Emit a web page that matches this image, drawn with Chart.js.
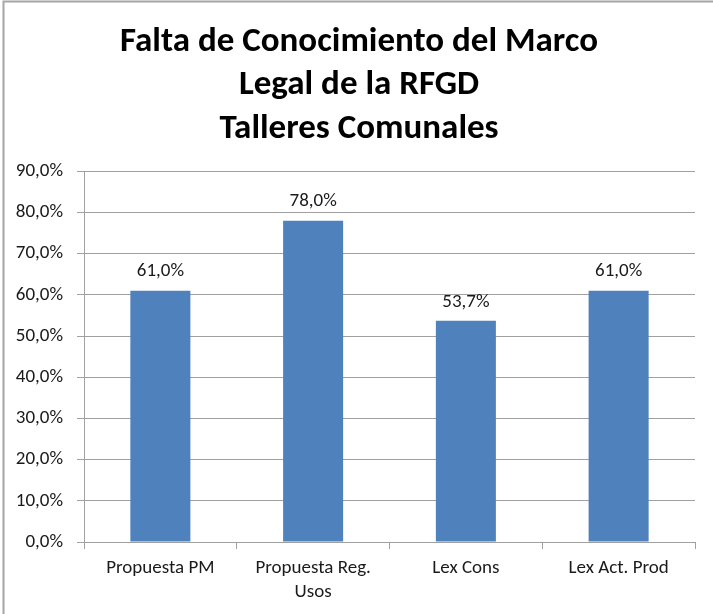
<!DOCTYPE html>
<html>
<head>
<meta charset="utf-8">
<script src="https://cdn.jsdelivr.net/npm/chart.js@4/dist/chart.umd.min.js"></script>
<style>
html,body{margin:0;padding:0;background:#fff;}
canvas{display:block;}
</style>
</head>
<body>
<canvas id="c" width="713" height="614"></canvas>
<script>
const titleLines = ['Falta de Conocimiento del Marco', 'Legal de la RFGD', 'Talleres Comunales'];
const categories = ['Propuesta PM', ['Propuesta Reg.', 'Usos'], 'Lex Cons', 'Lex Act. Prod'];
const values = [61.0, 78.0, 53.7, 61.0];
const yMin = 0, yMax = 90, yStep = 10;

const FONT = 'Carlito, Lato, "Open Sans", sans-serif';
const fmt = v => Number(v).toFixed(1).replace('.', ',') + '%';

const frame = {
  id: 'frame',
  beforeDraw(chart) {
    const c = chart.ctx;
    c.save();
    c.fillStyle = '#fff';
    c.fillRect(0, 0, chart.width, chart.height);
    c.strokeStyle = '#a6a6a6';
    c.lineWidth = 2;
    c.beginPath();
    c.moveTo(3.5, chart.height);
    c.lineTo(3.5, 1.5);
    c.lineTo(chart.width, 1.5);
    c.stroke();
    c.restore();
  }
};

const barLabels = {
  id: 'barLabels',
  afterDatasetsDraw(chart) {
    const c = chart.ctx;
    const meta = chart.getDatasetMeta(0);
    c.save();
    c.font = '19px ' + FONT;
    c.fillStyle = '#1a1a1a';
    c.textAlign = 'center';
    c.textBaseline = 'middle';
    meta.data.forEach((bar, i) => {
      c.fillText(fmt(values[i]), bar.x, bar.y - 19);
    });
    c.restore();
  }
};

new Chart(document.getElementById('c'), {
  type: 'bar',
  data: {
    labels: categories,
    datasets: [{
      data: values,
      backgroundColor: '#4f81bd',
      borderWidth: 0,
      categoryPercentage: 1,
      barPercentage: 0.393
    }]
  },
  options: {
    responsive: false,
    animation: false,
    devicePixelRatio: 1,
    layout: { padding: { left: 5, right: 0, top: 0, bottom: 0 } },
    plugins: {
      legend: { display: false },
      tooltip: { enabled: false },
      title: {
        display: true,
        text: titleLines,
        color: '#000',
        font: { family: FONT, size: 35, weight: 'bold', lineHeight: 1.25 },
        padding: { top: 20, bottom: 20 }
      }
    },
    scales: {
      x: {
        afterFit: s => { s.height = 72; },
        grid: { display: true, drawOnChartArea: false, drawTicks: true, tickLength: 7, color: '#a0a0a0', offset: true },
        border: { display: true, color: '#a0a0a0', width: 1 },
        ticks: { color: '#1a1a1a', font: { family: FONT, size: 19, lineHeight: 1.26 }, padding: 7, maxRotation: 0, autoSkip: false }
      },
      y: {
        min: yMin, max: yMax,
        afterFit: s => { s.width = 79; },
        grid: { color: '#a0a0a0', tickLength: 7, drawTicks: true },
        border: { display: true, color: '#a0a0a0', width: 1 },
        ticks: { stepSize: yStep, color: '#1a1a1a', font: { family: FONT, size: 19 }, padding: 14, callback: v => fmt(v) }
      },
      spacer: {
        type: 'linear',
        position: 'right',
        display: true,
        afterFit: s => { s.width = 18; },
        grid: { display: false },
        border: { display: false },
        ticks: { display: false }
      }
    }
  },
  plugins: [frame, barLabels]
});
</script>
</body>
</html>
